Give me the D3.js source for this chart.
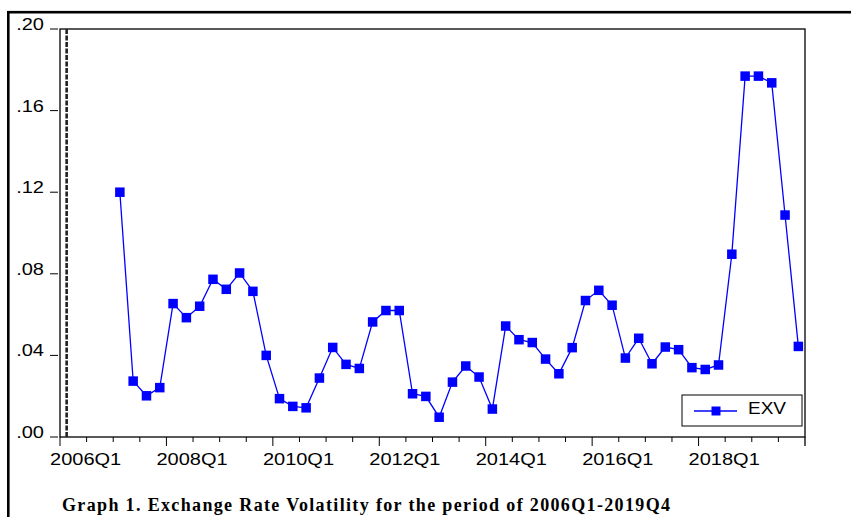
<!DOCTYPE html>
<html>
<head>
<meta charset="utf-8">
<script src="https://cdn.jsdelivr.net/npm/d3@7"></script>
<style>
  body { margin: 0; background: #fff; }
  svg { display: block; }
</style>
</head>
<body>
<svg id="chart" width="851" height="517"></svg>
<script>
// quarters on the axis, 2006Q1 .. 2019Q4
let years = d3.range(2006, 2020);
let quarters = [];
years.forEach(function(y){
  [1,2,3,4].forEach(function(q){ quarters.push(y + 'Q' + q); });
});

// EXV starts in 2007Q1
let firstObs = '2007Q1';
let exv = [0.120, 0.0274, 0.0202, 0.0242, 0.0654, 0.0585, 0.0641, 0.0773,
           0.0724, 0.0804, 0.0714, 0.0400, 0.0188, 0.0150, 0.0143, 0.0289,
           0.0439, 0.0356, 0.0336, 0.0564, 0.0620, 0.0620, 0.0212, 0.0199,
           0.0097, 0.0269, 0.0348, 0.0294, 0.0137, 0.0544, 0.0477, 0.0463,
           0.0382, 0.0310, 0.0438, 0.0669, 0.0719, 0.0646, 0.0387, 0.0484,
           0.0359, 0.0441, 0.0428, 0.0340, 0.0331, 0.0353, 0.0896, 0.1769,
           0.1769, 0.1736, 0.1088, 0.0444];
let yTicks = [0, 0.04, 0.08, 0.12, 0.16, 0.20];
let yTickLabels = ['.00', '.04', '.08', '.12', '.16', '.20'];
let xLabelQuarters = ['2006Q1','2008Q1','2010Q1','2012Q1','2014Q1','2016Q1','2018Q1'];
let seriesName = 'EXV';
let caption = 'Graph 1. Exchange Rate Volatility for the period of 2006Q1-2019Q4';

let start = quarters.indexOf(firstObs);
let data = exv.map(function(v, i){ return {q: quarters[start + i], v: v}; });

let svg = d3.select('#chart');
let pLeft = 60, pRight = 805, pTop = 29, pBottom = 437;

let x = d3.scaleBand().domain(quarters).range([pLeft, pRight]).padding(0);
let y = d3.scaleLinear().domain([0, 0.20]).range([pBottom, pTop]);
let bw = x.bandwidth();
let cx = d => x(d) + bw / 2;

function stretched(g, px, py, txt, anchor, size, sx) {
  return g.append('g')
    .attr('transform', 'translate(' + px + ',' + py + ') scale(' + sx + ',1)')
    .append('text')
    .attr('text-anchor', anchor)
    .attr('font-family', 'Liberation Sans, Arial, sans-serif')
    .attr('font-size', size)
    .attr('fill', '#000')
    .text(txt);
}

// outer frame
svg.append('rect')
  .attr('x', 8.3).attr('y', 12.2)
  .attr('width', 1000).attr('height', 1000)
  .attr('fill', 'none').attr('stroke', '#000').attr('stroke-width', 2.6);

// plot frame
svg.append('rect')
  .attr('x', pLeft).attr('y', pTop)
  .attr('width', pRight - pLeft).attr('height', pBottom - pTop)
  .attr('fill', 'none').attr('stroke', '#000').attr('stroke-width', 1.3);

// dashed vertical line at first quarter
svg.append('line')
  .attr('x1', cx(quarters[0])).attr('x2', cx(quarters[0]))
  .attr('y1', pTop).attr('y2', pBottom)
  .attr('stroke', '#222').attr('stroke-width', 2.6)
  .attr('stroke-dasharray', '5,1.5');

// y axis ticks + labels
let ya = svg.append('g');
yTicks.forEach(function(t, i){
  ya.append('line')
    .attr('x1', 50).attr('x2', 58)
    .attr('y1', y(t)).attr('y2', y(t))
    .attr('stroke', '#000').attr('stroke-width', 1);
  stretched(ya, 44, y(t) + 1, yTickLabels[i], 'end', 16, 1.25);
});

// x axis ticks, every 2 quarters; long ones every 2 years
let xa = svg.append('g');
quarters.forEach(function(q, i){
  if (i % 2 !== 0) return;
  let major = i % 8 === 0;
  xa.append('line')
    .attr('x1', x(q)).attr('x2', x(q))
    .attr('y1', pBottom).attr('y2', pBottom + (major ? 9 : 5))
    .attr('stroke', '#000').attr('stroke-width', 1);
});
xa.append('line')
  .attr('x1', pRight).attr('x2', pRight)
  .attr('y1', pBottom).attr('y2', pBottom + 9)
  .attr('stroke', '#000').attr('stroke-width', 1.3);
xLabelQuarters.forEach(function(q){
  stretched(xa, x(q) + 2 * bw - 1, 465, q, 'middle', 16, 1.25);
});

// series
let line = d3.line().x(d => cx(d.q)).y(d => y(d.v));
svg.append('path')
  .datum(data)
  .attr('d', line)
  .attr('fill', 'none')
  .attr('stroke', '#0000ff')
  .attr('stroke-width', 1.3);

let ms = 9.5;
svg.append('g').selectAll('rect')
  .data(data)
  .join('rect')
  .attr('x', d => cx(d.q) - ms / 2)
  .attr('y', d => y(d.v) - ms / 2)
  .attr('width', ms).attr('height', ms)
  .attr('fill', '#0000ff');

// legend
let lg = svg.append('g');
lg.append('rect')
  .attr('x', 682).attr('y', 395).attr('width', 120).attr('height', 31)
  .attr('fill', '#fff').attr('stroke', '#000').attr('stroke-width', 1);
lg.append('line')
  .attr('x1', 694).attr('x2', 737).attr('y1', 411).attr('y2', 411)
  .attr('stroke', '#0000ff').attr('stroke-width', 1.3);
lg.append('rect')
  .attr('x', 716 - 4.5).attr('y', 411 - 4.5).attr('width', 9).attr('height', 9)
  .attr('fill', '#0000ff');
stretched(lg, 748, 414, seriesName, 'start', 17, 1.12);

// caption
svg.append('text')
  .attr('x', 62).attr('y', 511)
  .attr('font-family', 'Liberation Serif, Times New Roman, serif')
  .attr('font-weight', 'bold')
  .attr('font-size', 18)
  .attr('textLength', 608)
  .attr('lengthAdjust', 'spacing')
  .text(caption);
</script>
</body>
</html>
